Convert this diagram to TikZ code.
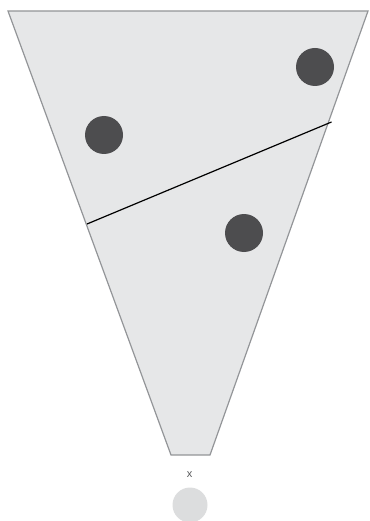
\documentclass[tikz,border=0pt]{standalone}
\usepackage{fontspec}
\setmainfont{Liberation Sans}
\definecolor{funnelfill}{HTML}{E6E7E8}
\definecolor{funneledge}{HTML}{939598}
\definecolor{dotdark}{HTML}{4D4D4F}
\definecolor{dotlight}{HTML}{DCDDDE}
\definecolor{labelgray}{HTML}{58595B}
\tikzset{
  funnel/.style={fill=funnelfill, draw=funneledge, line width=1.2pt, line join=miter},
  darkdot/.style={circle, fill=dotdark, inner sep=0pt, minimum size=38pt},
  lightdot/.style={circle, fill=dotlight, inner sep=0pt, minimum size=35pt},
  divider/.style={draw=black, line width=1.2pt},
  lbl/.style={font=\fontsize{11}{13}\selectfont, text=labelgray, inner sep=0pt}
}
\begin{document}
\begin{tikzpicture}[x=1pt,y=-1pt]
\useasboundingbox (0,0) rectangle (369,521);
\coordinate (tl) at (8,11);
\coordinate (tr) at (368,11);
\coordinate (br) at (210,455);
\coordinate (bl) at (171,455);
\draw[funnel] (tl) -- (tr) -- (br) -- (bl) -- cycle;
\coordinate (dl) at (87,224);
\coordinate (dr) at (331.5,122);
\draw[divider] (dl) -- (dr);
\node[darkdot] (d1) at (104,135) {};
\node[darkdot] (d2) at (315,67) {};
\node[darkdot] (d3) at (244,233) {};
\node[lbl] (xl) at (189.5,475) {x};
\node[lightdot] (lc) at (190,505) {};
\end{tikzpicture}
\end{document}
